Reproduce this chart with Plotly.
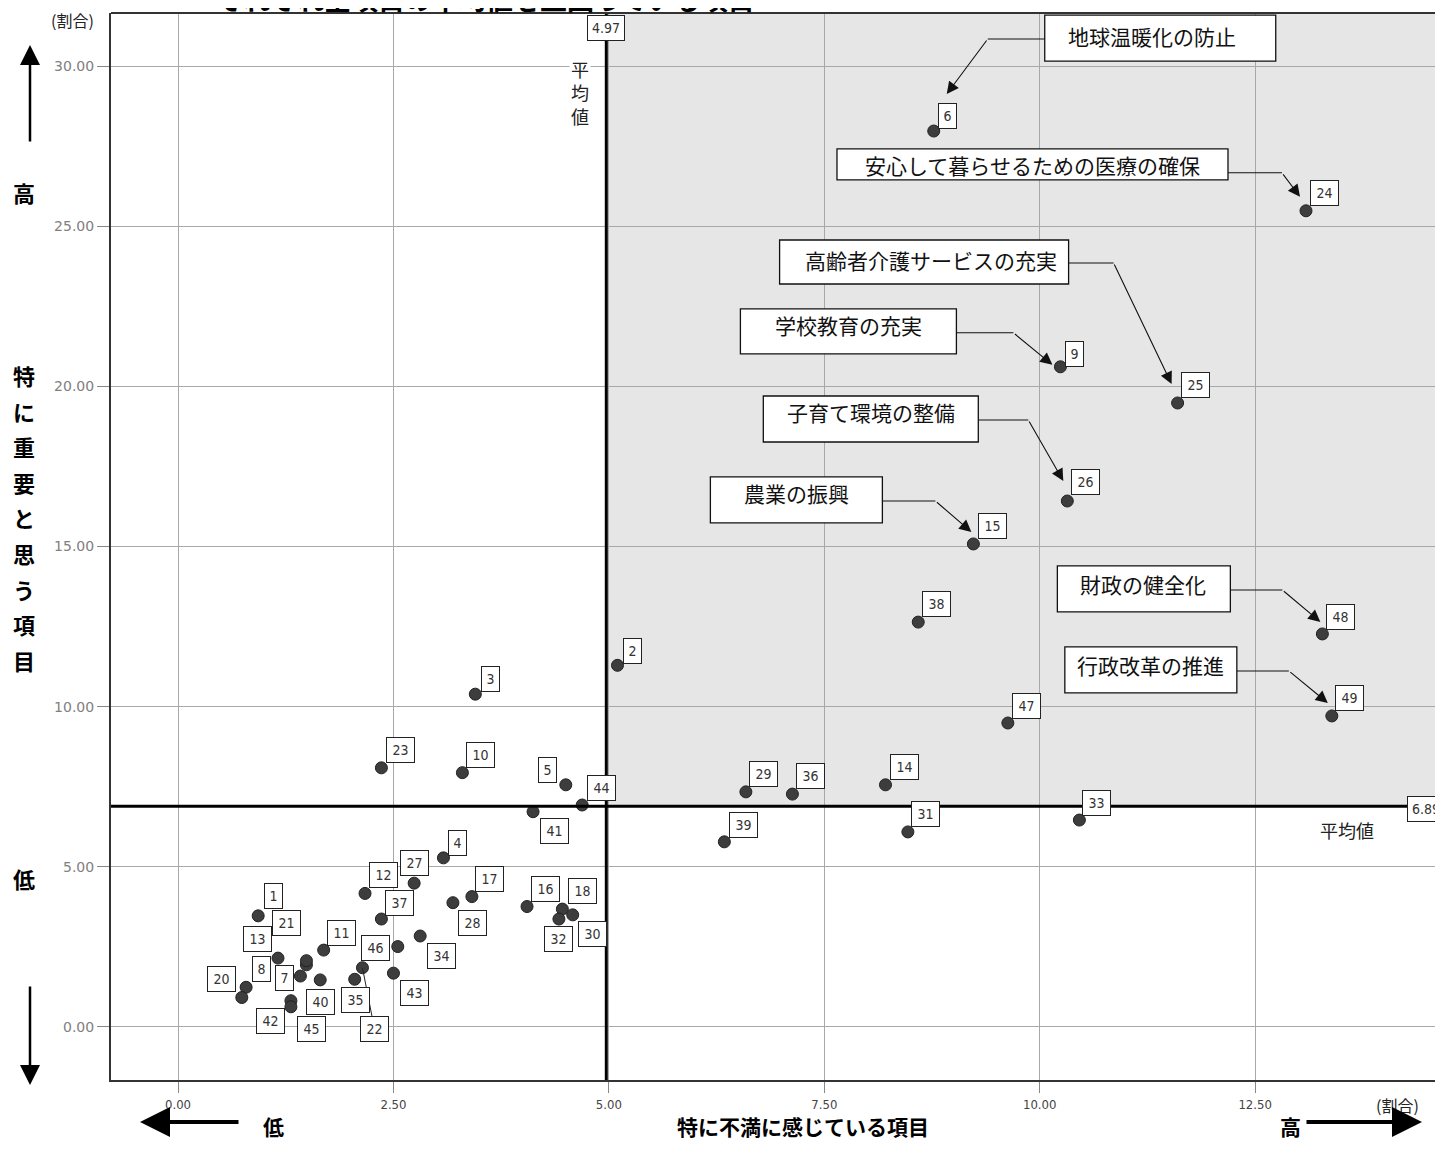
import plotly.graph_objects as go

# ---------------- data ----------------
item_no = list(range(1, 50))
dissatisfaction = [0.93, 5.10, 3.45, 3.08, 4.50, 8.77, 1.42, 0.79, 10.24, 3.30,
                   1.69, 2.17, 1.16, 8.21, 9.23, 4.05, 3.41, 4.46, 1.49, 0.74,
                   1.49, 2.14, 2.36, 13.09, 11.60, 10.32, 2.74, 3.19, 6.59, 4.58,
                   8.47, 4.42, 10.46, 2.81, 2.05, 7.13, 2.36, 8.59, 6.34, 1.65,
                   4.12, 1.31, 2.50, 4.69, 1.31, 2.55, 9.63, 13.28, 13.39]
importance = [3.47, 11.29, 10.39, 5.28, 7.56, 27.97, 1.59, 1.24, 20.61, 7.94,
              2.40, 4.17, 2.15, 7.56, 15.08, 3.76, 4.07, 3.68, 1.94, 0.92,
              2.07, 1.85, 8.09, 25.48, 19.48, 16.42, 4.49, 3.88, 7.34, 3.50,
              6.09, 3.37, 6.46, 2.84, 1.49, 7.27, 3.37, 12.64, 5.78, 1.47,
              6.72, 0.82, 1.68, 6.93, 0.63, 2.51, 9.49, 12.27, 9.71]
hidden_labels = [19]
mean_x = 4.97
mean_y = 6.89
x_ticks = [0, 2.5, 5, 7.5, 10, 12.5]
x_tick_labels = ["0.00", "2.50", "5.00", "7.50", "10.00", "12.50"]
y_ticks = [0, 5, 10, 15, 20, 25, 30]
y_tick_labels = ["0.00", "5.00", "10.00", "15.00", "20.00", "25.00", "30.00"]
callout_items = [6, 24, 25, 9, 26, 15, 48, 49]
callout_texts = ["地球温暖化の防止", "安心して暮らせるための医療の確保", "高齢者介護サービスの充実",
                 "学校教育の充実", "子育て環境の整備", "農業の振興", "財政の健全化", "行政改革の推進"]
title_text = "それぞれ全項目の平均値を上回っている項目"
x_title = "特に不満に感じている項目"
y_title = "特に重要と思う項目"
unit_text = "(割合)"
mean_text = "平均値"
low_text = "低"
high_text = "高"

# ---------------- layout geometry ----------------
OFF = 8                      # page body margin of the html page
W, H = 1443 - OFF, 1162 - OFF
L, R, T, B = 111 - OFF, 0, 13 - OFF, 82
X_RANGE = [-0.778, 14.68]
Y_RANGE = [-1.655, 31.655]


def px_x(px):
    """page pixel x -> paper x"""
    return (px - OFF - L) / (W - L - R)


def px_y(py):
    """page pixel y -> paper y"""
    return (H - B - (py - OFF)) / (H - T - B)


# label box offsets (screen pixels: dx right, dy down) relative to each point
label_offset = {1: (15, -20), 2: (15, -14), 3: (15, -15), 4: (14, -15), 5: (-18, -15), 6: (14, -15),
                7: (-16, 2), 8: (15, -18), 9: (14, -13), 10: (18, -18), 11: (18, -17), 12: (18, -18),
                13: (-21, -19), 14: (19, -18), 15: (19, -18), 16: (18, -18), 17: (18, -18), 18: (20, -18),
                20: (-20, -19), 21: (-20, -38), 23: (19, -18), 24: (19, -18), 25: (18, -18),
                26: (18, -19), 27: (0, -20), 28: (20, 20), 29: (18, -18), 30: (20, 19), 31: (18, -18),
                32: (0, 20), 33: (17, -17), 34: (21, 20), 35: (1, 21), 36: (18, -18), 37: (18, -16),
                38: (18, -18), 39: (19, -17), 40: (0, 22), 41: (21, 19), 42: (-20, 20), 43: (21, 20),
                44: (19, -17), 45: (21, 22), 46: (-22, 1), 47: (19, -17), 48: (18, -17), 49: (18, -18)}
leader_offset = {22: (12, 61)}

callout_geom = {
    6: dict(box=(111, 342, -116, -70), text=(218, -95), start=(111, -92), elbow=(54, -92), tip=(13, -37)),
    24: dict(box=(-469, -78, -62, -31), text=(-273, -46), start=(-78, -38), elbow=(-24, -38), tip=(-6, -14)),
    25: dict(box=(-398, -109, -163, -119), text=(-247, -143), start=(-109, -140), elbow=(-64, -140), tip=(-6, -19)),
    9: dict(box=(-320, -104, -58, -13), text=(-212, -42), start=(-104, -34), elbow=(-47, -34), tip=(-8, -2)),
    26: dict(box=(-304, -89, -105, -59), text=(-196, -89), start=(-89, -81), elbow=(-39, -81), tip=(-4, -20)),
    15: dict(box=(-263, -91, -67, -21), text=(-177, -51), start=(-91, -43), elbow=(-38, -43), tip=(-2, -12)),
    48: dict(box=(-265, -92, -68, -22), text=(-179, -50), start=(-92, -44), elbow=(-40, -44), tip=(-2, -12)),
    49: dict(box=(-267, -95, -69, -23), text=(-181, -51), start=(-95, -45), elbow=(-43, -45), tip=(-4, -13)),
}

JP = "Noto Sans CJK JP"
NARROW = "Liberation Sans Narrow, DejaVu Sans Condensed, Liberation Sans, sans-serif"
CENTER = dict(xanchor="center", yanchor="middle")

fig = go.Figure()
fig.add_trace(go.Scatter(
    x=dissatisfaction, y=importance, mode="markers",
    marker=dict(size=12, color="#3d3d3d", line=dict(width=1, color="#222222")),
    text=[str(n) for n in item_no], hoverinfo="text+x+y", showlegend=False,
))

shapes = []
annotations = []

# shaded quadrant
shapes.append(dict(type="rect", xref="x", yref="y", x0=mean_x, x1=X_RANGE[1] + 5,
                   y0=mean_y, y1=Y_RANGE[1] + 5, fillcolor="#e6e6e6",
                   line=dict(width=0), layer="below"))
# mean lines
shapes.append(dict(type="line", xref="x", yref="paper", x0=mean_x, x1=mean_x, y0=0, y1=1,
                   line=dict(color="#000000", width=3), layer="above"))
shapes.append(dict(type="line", xref="paper", yref="y", x0=0, x1=1, y0=mean_y, y1=mean_y,
                   line=dict(color="#000000", width=3), layer="above"))
# top frame line
shapes.append(dict(type="line", xref="paper", yref="paper", x0=0, x1=1, y0=1, y1=1,
                   line=dict(color="#333333", width=2), layer="above"))

lookup = {n: (dissatisfaction[i], importance[i]) for i, n in enumerate(item_no)}

# number labels
for n in item_no:
    if n in hidden_labels:
        continue
    xv, yv = lookup[n]
    w = 11 if n < 10 else 21
    common = dict(x=xv, y=yv, xref="x", yref="y", text=str(n),
                  font=dict(family=NARROW, size=14, color="#333333"),
                  bgcolor="#ffffff", bordercolor="#222222", borderwidth=1, borderpad=3,
                  width=w, height=18, align="center", valign="middle")
    if n in leader_offset:
        dx, dy = leader_offset[n]
        annotations.append(dict(common, showarrow=True, ax=dx, ay=dy, arrowhead=0,
                                arrowwidth=1, arrowcolor="#222222", standoff=0))
    else:
        dx, dy = label_offset[n]
        annotations.append(dict(common, **CENTER, showarrow=False, xshift=dx, yshift=-dy))

# callouts
for n, txt in zip(callout_items, callout_texts):
    xv, yv = lookup[n]
    g = callout_geom[n]
    bx0, bx1, by0, by1 = g["box"]
    shapes.append(dict(type="rect", xref="x", yref="y", xsizemode="pixel", ysizemode="pixel",
                       xanchor=xv, yanchor=yv, x0=bx0, x1=bx1, y0=-by1, y1=-by0,
                       fillcolor="#ffffff", line=dict(color="#111111", width=1.3), layer="above"))
    sx, sy = g["start"]
    ex, ey = g["elbow"]
    shapes.append(dict(type="line", xref="x", yref="y", xsizemode="pixel", ysizemode="pixel",
                       xanchor=xv, yanchor=yv, x0=sx, x1=ex, y0=-sy, y1=-ey,
                       line=dict(color="#111111", width=1.1), layer="above"))
    tx, ty = g["tip"]
    annotations.append(dict(x=xv, y=yv, xref="x", yref="y", text="", showarrow=True,
                            xshift=tx, yshift=-ty, ax=ex - tx, ay=ey - ty,
                            arrowhead=2, arrowsize=2.2, arrowwidth=1.1, arrowcolor="#111111",
                            standoff=0))
    cx, cy = g["text"]
    annotations.append(dict(x=xv, y=yv, xref="x", yref="y", text=txt, showarrow=False, **CENTER,
                            xshift=cx, yshift=-cy, font=dict(family=JP, size=21, color="#111111")))

# mean value labels
annotations.append(dict(x=mean_x, y=px_y(28), xref="x", yref="paper", text=f"{mean_x:.2f}",
                        showarrow=False, **CENTER, font=dict(family=NARROW, size=14, color="#333333"),
                        bgcolor="#ffffff", bordercolor="#222222", borderwidth=1, borderpad=4))
annotations.append(dict(x=px_x(1407), y=mean_y, xref="paper", yref="y", xanchor="left",
                        yanchor="middle", yshift=-3, text=f"{mean_y:.2f}", showarrow=False,
                        font=dict(family=NARROW, size=14, color="#333333"),
                        bgcolor="#ffffff", bordercolor="#222222", borderwidth=1, borderpad=4))
annotations.append(dict(x=mean_x, y=px_y(92), xref="x", yref="paper", xshift=-26, **CENTER,
                        text="<br>".join(mean_text), showarrow=False,
                        font=dict(family=JP, size=18, color="#222222"), bgcolor="#ffffff"))
annotations.append(dict(x=px_x(1347), y=mean_y, xref="paper", yref="y", yshift=-24, **CENTER,
                        text=mean_text, showarrow=False,
                        font=dict(family=JP, size=18, color="#222222")))

# outer texts
annotations.append(dict(x=px_x(72), y=px_y(20), xref="paper", yref="paper", text=unit_text, **CENTER,
                        showarrow=False, font=dict(family=JP, size=16, color="#222222")))
annotations.append(dict(x=px_x(1397), y=px_y(1105), xref="paper", yref="paper", text=unit_text, **CENTER,
                        showarrow=False, font=dict(family=JP, size=16, color="#222222")))
annotations.append(dict(x=px_x(485), y=px_y(-2), xref="paper", yref="paper", text=title_text, **CENTER,
                        showarrow=False, font=dict(family=JP, size=27, color="#000000", weight="bold")))

bold = dict(family=JP, size=22, color="#000000", weight="bold")
annotations.append(dict(x=px_x(24), y=px_y(192), xref="paper", yref="paper", text=high_text, **CENTER,
                        showarrow=False, font=bold))
annotations.append(dict(x=px_x(24), y=px_y(878), xref="paper", yref="paper", text=low_text, **CENTER,
                        showarrow=False, font=bold))
for i, ch in enumerate(y_title):
    annotations.append(dict(x=px_x(24), y=px_y(375 + i * 35.6), xref="paper", yref="paper", **CENTER,
                            text=ch, showarrow=False, font=bold))
bold_b = dict(bold, size=21)
annotations.append(dict(x=px_x(273), y=px_y(1126), xref="paper", yref="paper", text=low_text, **CENTER,
                        showarrow=False, font=bold_b))
annotations.append(dict(x=px_x(1290), y=px_y(1126), xref="paper", yref="paper", text=high_text, **CENTER,
                        showarrow=False, font=bold_b))
annotations.append(dict(x=px_x(803), y=px_y(1126), xref="paper", yref="paper", text=x_title, **CENTER,
                        showarrow=False, font=bold_b))

# direction arrows
arrow_common = dict(xref="paper", yref="paper", text="", showarrow=True, arrowhead=2,
                    arrowcolor="#000000", standoff=0)
annotations.append(dict(arrow_common, x=px_x(30), y=px_y(45), ax=0, ay=98, arrowwidth=2.5, arrowsize=1.6))
annotations.append(dict(arrow_common, x=px_x(30), y=px_y(1085), ax=0, ay=-100, arrowwidth=2.5, arrowsize=1.6))
annotations.append(dict(arrow_common, x=px_x(140), y=px_y(1122), ax=100, ay=0, arrowwidth=4, arrowsize=1.5))
annotations.append(dict(arrow_common, x=px_x(1422), y=px_y(1122), ax=-117, ay=0, arrowwidth=4, arrowsize=1.5))

fig.update_layout(
    width=W, height=H,
    margin=dict(l=L, r=R, t=T, b=B, pad=0),
    paper_bgcolor="#ffffff", plot_bgcolor="#ffffff",
    shapes=shapes, annotations=annotations, showlegend=False,
    xaxis=dict(range=X_RANGE, tickvals=x_ticks, ticktext=x_tick_labels,
               showgrid=True, gridcolor="#a8a8a8", gridwidth=1, zeroline=False,
               showline=True, linecolor="#333333", linewidth=2,
               ticks="outside", ticklen=11, tickcolor="#888888", tickwidth=1,
               tickfont=dict(family=NARROW, size=13, color="#444444")),
    yaxis=dict(range=Y_RANGE, tickvals=y_ticks, ticktext=y_tick_labels,
               showgrid=True, gridcolor="#a8a8a8", gridwidth=1, zeroline=False,
               showline=True, linecolor="#333333", linewidth=2,
               ticks="outside", ticklen=12, tickcolor="#888888", tickwidth=1,
               tickfont=dict(family="DejaVu Sans", size=14, color="#808080")),
)

fig.write_html("out.html")
